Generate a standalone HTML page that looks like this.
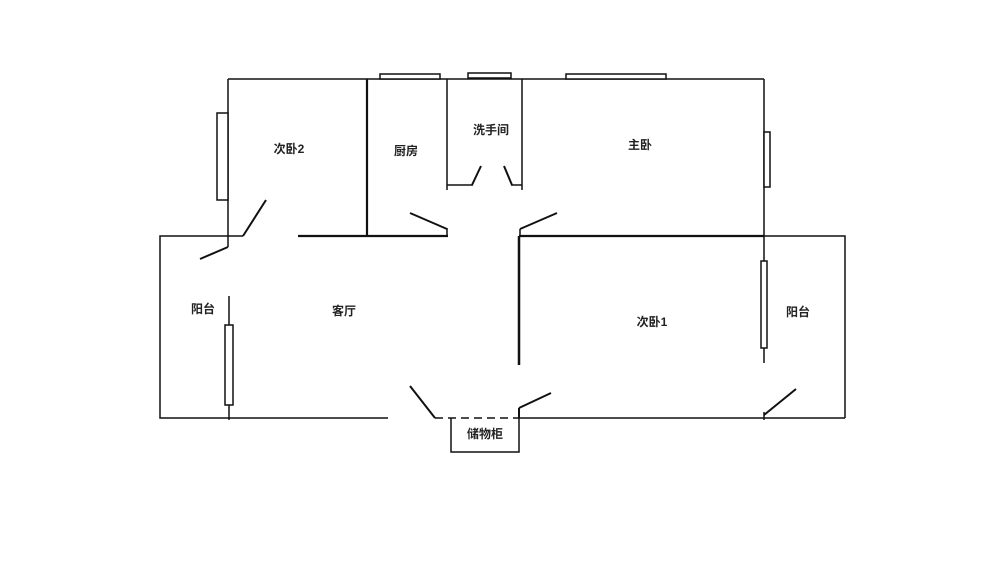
<!DOCTYPE html>
<html><head><meta charset="utf-8"><style>
html,body{margin:0;padding:0;background:#fff;}
svg text{font-family:"Liberation Sans","Noto Sans CJK SC",sans-serif;font-size:12px;font-weight:bold;fill:#222;text-anchor:middle;dominant-baseline:central;}
</style></head><body>
<svg width="1000" height="581" viewBox="0 0 1000 581" xmlns="http://www.w3.org/2000/svg">
<g stroke="#111" fill="none" stroke-width="1.5">
<line x1="228" y1="79" x2="764" y2="79"/>
<rect x="380" y="74" width="60" height="5" fill="#fff"/>
<rect x="468" y="73" width="43" height="5" fill="#fff"/>
<rect x="566" y="74" width="100" height="5" fill="#fff"/>
<line x1="228" y1="79" x2="228" y2="247"/>
<rect x="217" y="113" width="11" height="87" fill="#fff"/>
<line x1="367" y1="79" x2="367" y2="236" stroke-width="2.2"/>
<line x1="447" y1="79" x2="447" y2="190"/>
<line x1="522" y1="79" x2="522" y2="190"/>
<line x1="447" y1="185" x2="473" y2="185"/>
<line x1="472" y1="185" x2="481" y2="166" stroke-width="2"/>
<line x1="504" y1="166" x2="512" y2="185" stroke-width="2"/>
<line x1="511" y1="185" x2="522" y2="185"/>
<line x1="764" y1="79" x2="764" y2="236"/>
<rect x="764" y="132" width="6" height="55" fill="#fff"/>
<line x1="228" y1="236" x2="243" y2="236"/>
<line x1="243" y1="236" x2="266" y2="200" stroke-width="2"/>
<line x1="298" y1="236" x2="448" y2="236" stroke-width="2.2"/>
<line x1="410" y1="213" x2="447" y2="229" stroke-width="2"/>
<line x1="447" y1="228" x2="447" y2="236"/>
<line x1="519" y1="236" x2="764" y2="236" stroke-width="2.2"/>
<line x1="520" y1="229" x2="557" y2="213" stroke-width="2"/>
<line x1="520" y1="229" x2="520" y2="236"/>
<line x1="519" y1="236" x2="519" y2="365" stroke-width="2.5"/>
<polyline points="228,236 160,236 160,418 388,418"/>
<line x1="228" y1="247" x2="200" y2="259" stroke-width="2"/>
<line x1="229" y1="296" x2="229" y2="420"/>
<rect x="225" y="325" width="8" height="80" fill="#fff"/>
<line x1="410" y1="386" x2="435" y2="418" stroke-width="2"/>
<line x1="435" y1="418" x2="519" y2="418" stroke-dasharray="8,5"/>
<line x1="519" y1="418" x2="845" y2="418"/>
<polyline points="451,418 451,452 519,452 519,418"/>
<line x1="519" y1="418" x2="519" y2="408" stroke-width="2"/>
<line x1="519" y1="408" x2="551" y2="393" stroke-width="2"/>
<polyline points="764,236 845,236 845,418"/>
<line x1="764" y1="236" x2="764" y2="363"/>
<rect x="761" y="261" width="6" height="87" fill="#fff"/>
<line x1="764" y1="415" x2="796" y2="389" stroke-width="2"/>
<line x1="764" y1="412" x2="764" y2="420"/>
</g>
<text x="289" y="149">次卧2</text>
<text x="406" y="151">厨房</text>
<text x="491" y="130">洗手间</text>
<text x="640" y="145">主卧</text>
<text x="203" y="309">阳台</text>
<text x="344" y="311">客厅</text>
<text x="652" y="322">次卧1</text>
<text x="798" y="312">阳台</text>
<text x="485" y="434">储物柜</text>
</svg>
</body></html>
